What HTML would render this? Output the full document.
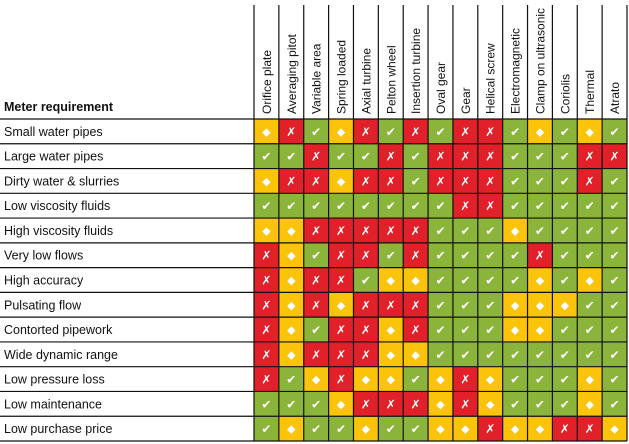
<!DOCTYPE html>
<html><head><meta charset="utf-8"><style>
html,body{margin:0;padding:0;background:#fff;}
svg{display:block;font-family:"Liberation Sans",Arial,sans-serif;}
</style></head><body>
<svg id="chart" width="629" height="444" viewBox="0 0 629 444"></svg>
<script>
const meters = ["Orifice plate","Averaging pitot","Variable area","Spring loaded","Axial turbine","Pelton wheel","Insertion turbine","Oval gear","Gear","Helical screw","Electromagnetic","Clamp on ultrasonic","Coriolis","Thermal","Atrato"];
const requirements = ["Small water pipes","Large water pipes","Dirty water & slurries","Low viscosity fluids","High viscosity fluids","Very low flows","High accuracy","Pulsating flow","Contorted pipework","Wide dynamic range","Low pressure loss","Low maintenance","Low purchase price"];
// g = suitable, y = possible, r = unsuitable
const ratings = [
"yrgyrgrgrrgygyg",
"ggrggrgrrrgggrr",
"yrryrrgrrrgggrg",
"ggggggggrrggggg",
"yyrrrrrgggygggg",
"rygrrgrggggrggg",
"ryrrgyygggggygyg".slice(0,15),
"ryryrrrgggyyygg",
"rygrrgrgggyyggg",
"ryrrryygggggggg",
"rgyryygyryggggyg".slice(0,15),
"gggyrrryryggggyg".slice(0,15),
"gyggyggyyryyrry"
];
ratings[6]="ryrrgyygggggyg".padEnd(15,"g");
ratings[6]="ryrrgyyggggygyg";
ratings[8]="rygrryrgggyyggg";
ratings[10]="rgyryygyryggggg".slice(0,13)+"yg";
ratings[11]="gggyrrryryggg"+"yg";
const colors={g:"#8bb43a",y:"#fcc30b",r:"#e2202a"};
const glyphs={g:"\u2714",y:"\u25C6",r:"\u2717"};
const NS="http://www.w3.org/2000/svg";
const svg=document.getElementById("chart");
const x0=254,x1=627,y0=119,y1=441;
const cw=(x1-x0)/meters.length, rh=(y1-y0)/requirements.length;
const colX=i=>x0+i*cw, rowY=j=>y0+j*rh;
function mk(t,a){const e=document.createElementNS(NS,t);for(const k in a)e.setAttribute(k,a[k]);svg.appendChild(e);return e;}
const h=mk("text",{x:4,y:111,"font-size":"12.5","font-weight":"bold",fill:"#111"});


h.textContent="Meter requirement";
requirements.forEach((r,j)=>{
  const t=mk("text",{x:4,y:rowY(j)+rh/2+4.5,"font-size":"12.5",fill:"#111"});
  
  
  t.textContent=r;
  for(let i=0;i<meters.length;i++){
    const k=ratings[j][i];
    const c=mk("rect",{x:colX(i),y:rowY(j),width:cw,height:rh,fill:colors[k]});
    
    
    const g=mk("text",{x:colX(i)+cw/2,y:rowY(j)+rh/2+(k==="y"?4:4.5),"text-anchor":"middle","font-size":k==="y"?"11":"12",fill:"#fff","font-weight":"bold","font-family":"DejaVu Sans,sans-serif"});
    
    
    g.textContent=glyphs[k];
  }
});
meters.forEach((m,i)=>{
  const cx=colX(i)+cw/2+4.5;
  const t=mk("text",{x:cx,y:114,"font-size":"12",fill:"#111",transform:`rotate(-90 ${cx} 114)`});
  
  
  t.textContent=m;
});
for(let i=0;i<=meters.length;i++){
  const l=mk("line",{x1:colX(i),y1:5,x2:colX(i),y2:y1,stroke:"#111","stroke-width":"1.2"});
  
  
}
for(let j=0;j<=requirements.length;j++){
  const l=mk("line",{x1:0,y1:rowY(j),x2:x1,y2:rowY(j),stroke:"#111","stroke-width":"1.2"});
  
  
}
</script>
</body></html>
